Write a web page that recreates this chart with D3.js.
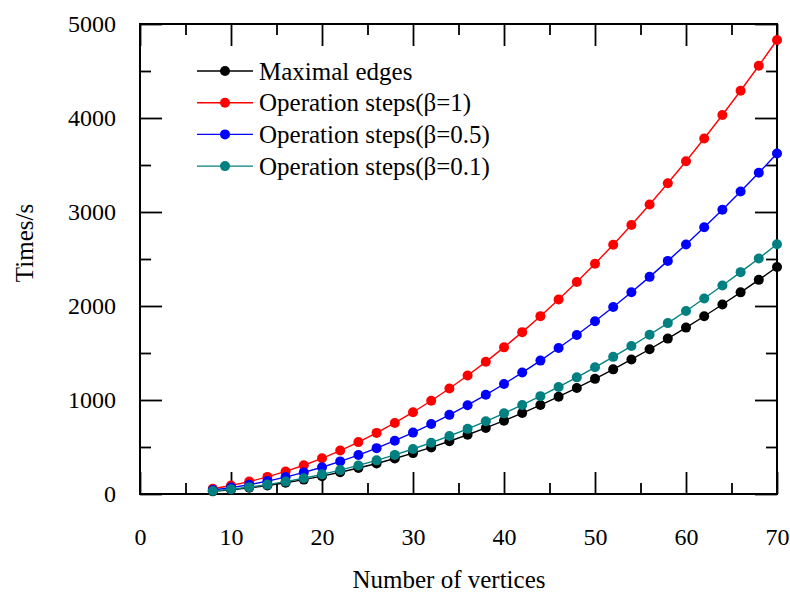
<!DOCTYPE html>
<html>
<head>
<meta charset="utf-8">
<script src="https://cdn.jsdelivr.net/npm/d3@7"></script>
<style>
  body { margin: 0; background: #fff; }
  text { font-family: "Liberation Serif", "Times New Roman", serif; }
</style>
</head>
<body>
<svg id="chart" width="790" height="594"></svg>
<script>
// data
var vertices = [8, 10, 12, 14, 16, 18, 20, 22, 24, 26, 28, 30, 32, 34, 36, 38, 40,
                42, 44, 46, 48, 50, 52, 54, 56, 58, 60, 62, 64, 66, 68, 70];

var maximalEdges = [28, 45, 66, 91, 120, 153, 190, 231, 276, 325, 378, 435, 496, 561, 630, 703,
                    780, 861, 946, 1035, 1128, 1225, 1326, 1431, 1540, 1653, 1770, 1891, 2016, 2145, 2278, 2415];

var stepsBeta1 = [56, 90, 132, 182, 240, 306, 380, 462, 552, 650, 756, 870, 992, 1122, 1260, 1406,
                  1560, 1722, 1892, 2070, 2256, 2450, 2652, 2862, 3080, 3306, 3540, 3782, 4032, 4290, 4556, 4830];

var stepsBeta05 = [42, 68, 99, 137, 180, 230, 285, 347, 414, 488, 567, 653, 744, 842, 945, 1055,
                   1170, 1292, 1419, 1553, 1692, 1838, 1989, 2147, 2310, 2480, 2655, 2837, 3024, 3218, 3417, 3623];

var stepsBeta01 = [31, 50, 73, 100, 132, 168, 209, 254, 304, 358, 416, 479, 546, 617, 693, 773,
                   858, 947, 1041, 1139, 1241, 1348, 1459, 1574, 1694, 1818, 1947, 2080, 2218, 2360, 2506, 2657];

var seriesNames = ["Maximal edges", "Operation steps(β=1)", "Operation steps(β=0.5)", "Operation steps(β=0.1)"];
var seriesColors = ["#000000", "#ff0000", "#0000ff", "#008080"];
var seriesValues = [maximalEdges, stepsBeta1, stepsBeta05, stepsBeta01];

var xTicks = [0, 10, 20, 30, 40, 50, 60, 70];
var yTicks = [0, 1000, 2000, 3000, 4000, 5000];

var svg = d3.select("#chart"),
    margin = {top: 24, right: 13, bottom: 100, left: 140},
    width = +svg.attr("width") - margin.left - margin.right,
    height = +svg.attr("height") - margin.top - margin.bottom,
    g = svg.append("g").attr("transform", "translate(" + margin.left + "," + margin.top + ")");

var x = d3.scaleLinear().domain([0, 70]).range([0, width]);
var y = d3.scaleLinear().domain([0, 5000]).range([height, 0]);

var major = 22, minor = 11;

// frame + inward ticks, drawn with axes
function styleAxis(sel) {
  sel.select(".domain").remove();
  sel.selectAll(".tick line").attr("stroke", "#000").attr("stroke-width", 1.8);
  sel.selectAll("text").attr("fill", "#000").attr("font-size", 24);
}

var minorX = [5, 15, 25, 35, 45, 55, 65];
var minorY = [500, 1500, 2500, 3500, 4500];

// bottom
g.append("g").attr("transform", "translate(0," + height + ")")
  .call(d3.axisBottom(x).tickValues(xTicks).tickSize(-major).tickPadding(major + 12).tickFormat(d3.format("d")))
  .call(styleAxis);
g.append("g").attr("transform", "translate(0," + height + ")")
  .call(d3.axisBottom(x).tickValues(minorX).tickSize(-minor).tickFormat(""))
  .call(styleAxis);
// top
g.append("g")
  .call(d3.axisTop(x).tickValues(xTicks).tickSize(-major).tickFormat(""))
  .call(styleAxis);
g.append("g")
  .call(d3.axisTop(x).tickValues(minorX).tickSize(-minor).tickFormat(""))
  .call(styleAxis);
// left
g.append("g")
  .call(d3.axisLeft(y).tickValues(yTicks).tickSize(-major).tickPadding(major + 2).tickFormat(d3.format("d")))
  .call(styleAxis);
g.append("g")
  .call(d3.axisLeft(y).tickValues(minorY).tickSize(-minor).tickFormat(""))
  .call(styleAxis);
// right
g.append("g").attr("transform", "translate(" + width + ",0)")
  .call(d3.axisRight(y).tickValues(yTicks).tickSize(-major).tickFormat(""))
  .call(styleAxis);
g.append("g").attr("transform", "translate(" + width + ",0)")
  .call(d3.axisRight(y).tickValues(minorY).tickSize(-minor).tickFormat(""))
  .call(styleAxis);

g.append("rect")
  .attr("width", width).attr("height", height)
  .attr("fill", "none").attr("stroke", "#000").attr("stroke-width", 2);

// lines and dots
var line = d3.line()
  .x(function(d, i) { return x(vertices[i]); })
  .y(function(d) { return y(d); });

var series = g.selectAll(".series")
  .data(seriesValues)
  .enter().append("g")
    .attr("class", "series");

series.append("path")
  .attr("d", line)
  .attr("fill", "none")
  .attr("stroke", function(d, i) { return seriesColors[i]; })
  .attr("stroke-width", 1.4);

series.each(function(vals, i) {
  d3.select(this).selectAll("circle")
    .data(vals)
    .enter().append("circle")
      .attr("cx", function(d, j) { return x(vertices[j]); })
      .attr("cy", function(d) { return y(d); })
      .attr("r", 5)
      .attr("fill", seriesColors[i]);
});

// axis titles
svg.append("text")
  .attr("x", 449).attr("y", 588)
  .attr("text-anchor", "middle")
  .attr("font-size", 25)
  .text("Number of vertices");

svg.append("text")
  .attr("transform", "translate(33,243) rotate(-90)")
  .attr("text-anchor", "middle")
  .attr("font-size", 25)
  .text("Times/s");

// legend
var legend = svg.append("g")
  .selectAll("g")
  .data(seriesNames)
  .enter().append("g")
    .attr("transform", function(d, i) { return "translate(197," + (71 + i * 31.7) + ")"; });

legend.append("line")
  .attr("x1", 0).attr("x2", 56)
  .attr("stroke", function(d, i) { return seriesColors[i]; })
  .attr("stroke-width", 1.4);

legend.append("circle")
  .attr("cx", 28).attr("r", 5)
  .attr("fill", function(d, i) { return seriesColors[i]; });

legend.append("text")
  .attr("x", 62)
  .attr("dy", "0.35em")
  .attr("font-size", 25)
  .text(function(d) { return d; });
</script>
</body>
</html>
